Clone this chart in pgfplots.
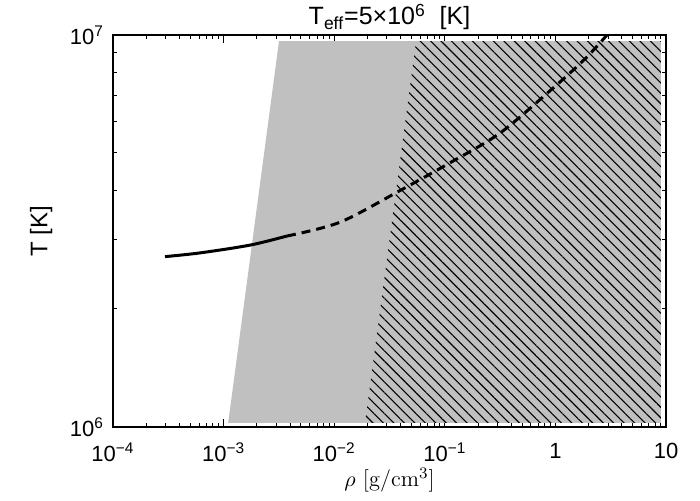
\documentclass[border=0pt]{standalone}
\usepackage{pgfplots}
\pgfplotsset{compat=1.18}
\usepackage{fontspec}
\setsansfont{Liberation Sans}
\renewcommand{\familydefault}{\sfdefault}
\usetikzlibrary{patterns.meta}
\definecolor{shade}{RGB}{192,192,192}

\begin{document}
\begin{tikzpicture}
\useasboundingbox (-56.5pt,-36.5pt) rectangle (293.5pt,213.5pt);
\begin{axis}[
  at={(0,0)},anchor=south west,
  scale only axis,
  width=276.5pt,height=196pt,
  xmode=log,ymode=log,
  xmin=1e-4,xmax=10,ymin=1e6,ymax=1e7,
  xtick={1e-4,1e-3,1e-2,1e-1,1,10},
  xticklabels={10\textsuperscript{−4},10\textsuperscript{−3},10\textsuperscript{−2},10\textsuperscript{−1},1,10},
  minor xtick={2e-4,3e-4,4e-4,5e-4,6e-4,7e-4,8e-4,9e-4,
               2e-3,3e-3,4e-3,5e-3,6e-3,7e-3,8e-3,9e-3,
               2e-2,3e-2,4e-2,5e-2,6e-2,7e-2,8e-2,9e-2,
               0.2,0.3,0.4,0.5,0.6,0.7,0.8,0.9,
               2,3,4,5,6,7,8,9},
  ytick={1e6,1e7},
  yticklabels={10\textsuperscript{6},10\textsuperscript{7}},
  minor ytick={2e6,3e6,4e6,5e6,6e6,7e6,8e6,9e6},
  tick align=inside,
  major tick length=4pt,minor tick length=2.2pt,
  every tick/.style={black,line width=0.5pt},
  axis line style={line width=0.6pt},
  tick label style={font=\fontsize{11}{13}\selectfont},
  xticklabel style={yshift=-4.5pt},
  yticklabel style={xshift=-1pt},
  xlabel={\rmfamily$\rho$ [g/cm$^3$]},
  xlabel style={at={(axis description cs:0.5,-0.135)},anchor=center,font=\fontsize{11.2}{13}\selectfont},
  ylabel={T [K]},
  ylabel style={at={(axis description cs:-0.13,0.5)},anchor=center,font=\fontsize{12}{14}\selectfont},
  clip=false,
]
% gray region
\addplot[fill=shade,draw=none] coordinates {
  (1.10e-3,1.024e6) (3.17e-3,9.65e6) (9.0,9.65e6) (9.0,1.024e6)} -- cycle;
% hatched region
\addplot[draw=none,pattern={Lines[angle=-45,distance=3.7pt,line width=0.55pt]},pattern color=black] coordinates {
  (0.019,1.024e6) (0.055,9.65e6) (9.0,9.65e6) (9.0,1.024e6)} -- cycle;
% solid part
\addplot[black,line width=1.5pt,smooth] coordinates {
  (2.95e-4,2.72e6) (6.1e-4,2.78e6) (1.73e-3,2.91e6) (3.74e-3,3.07e6)};
% dashed part
\addplot[black,line width=1.5pt,smooth,dash pattern=on 4.5pt off 3pt] coordinates {
  (3.74e-3,3.07e6) (1.13e-2,3.33e6) (0.0394,4.01e6) (0.1114,4.72e6)
  (0.3155,5.62e6) (0.931,7.28e6) (1.853,8.69e6) (2.93,1.0e7)};
\end{axis}
\node[font=\fontsize{12.5}{14}\selectfont,anchor=center] at (138.25pt,205pt)
  {T\textsubscript{eff}=5×10\textsuperscript{6}\ \ [K]};
\end{tikzpicture}
\end{document}
